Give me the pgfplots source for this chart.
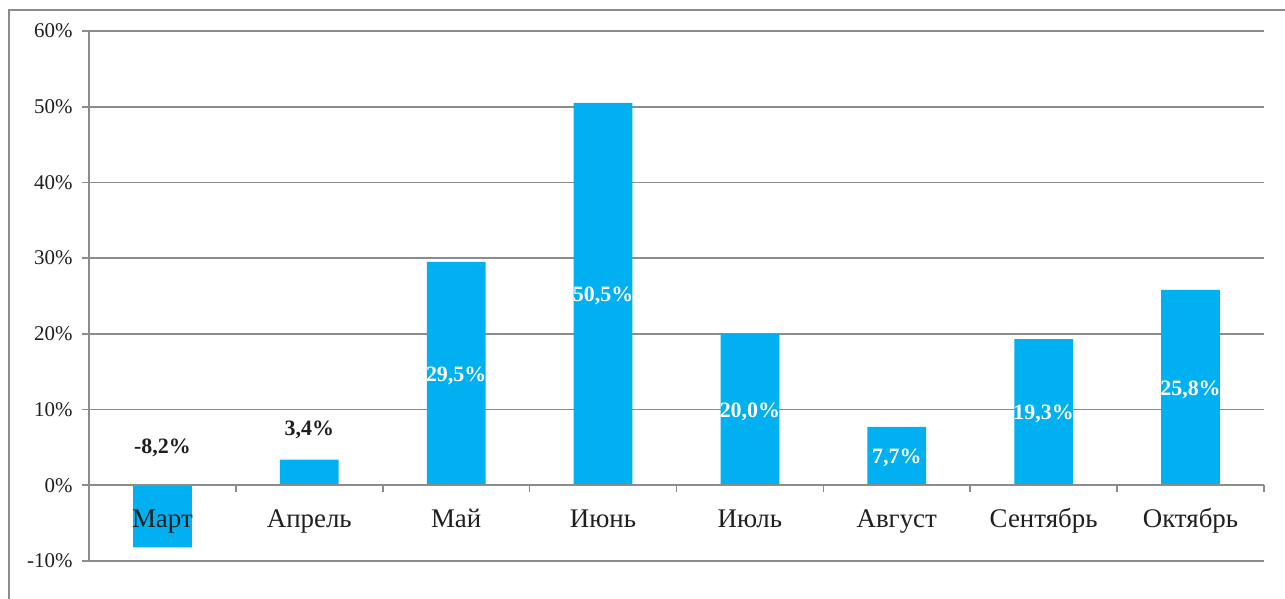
\documentclass[border=0pt]{standalone}
\usepackage{pgfplots}
\pgfplotsset{compat=1.18}
\usepackage{fontspec}
\setmainfont{Liberation Serif}
\definecolor{barblue}{HTML}{00B0F0}
\definecolor{linegray}{HTML}{8C8C8C}

\pgfplotstableread{
x  v
0  -8.2
1   3.4
2  29.5
3  50.5
4  20.0
5   7.7
6  19.3
7  25.8
}\monthly

\tikzset{
  catlab/.style={font=\fontsize{27}{27}\selectfont, text=black!88, anchor=base},
  vallab/.style={font=\bfseries\fontsize{22}{22}\selectfont, text=black!88},
  inlab/.style={font=\bfseries\fontsize{22}{22}\selectfont, text=white, yshift=-2bp},
  sep/.style={linegray, line width=1.6bp},
}

\begin{document}
\begin{tikzpicture}
\useasboundingbox (-89bp,-38bp) rectangle (1196bp,561bp);
% outer chart frame
\draw[linegray, line width=1.4bp] (-80bp,-38bp) -- (-80bp,551bp) -- (1196bp,551bp);
\begin{axis}[
  scale only axis,
  width=1175bp, height=530bp,
  xmin=-0.5, xmax=7.5,
  ymin=-10, ymax=60,
  axis x line=none,
  axis y line*=left,
  axis line style={linegray, line width=1.6bp},
  ytick={-10,0,10,20,30,40,50,60},
  yticklabel={\pgfmathprintnumber{\tick}\%},
  /pgf/number format/assume math mode=true,
  yticklabel style={font=\fontsize{21}{21}\selectfont, text=black!88, xshift=-6bp},
  tick style={linegray, line width=1.6bp},
  major tick length=7bp,
  tick align=outside,
  ymajorgrids,
  grid style={linegray, line width=1.6bp},
  clip=false,
]
\addplot[ybar, bar width=0.4, fill=barblue, draw=none] table[x=x, y=v] {\monthly};
% zero line with category separators
\draw[sep] (axis cs:-0.5,0) -- (axis cs:7.5,0);
\draw[sep] (axis cs:0.5,0) -- (axis cs:0.5,-0.92);
\draw[sep] (axis cs:1.5,0) -- (axis cs:1.5,-0.92);
\draw[sep] (axis cs:2.5,0) -- (axis cs:2.5,-0.92);
\draw[sep] (axis cs:3.5,0) -- (axis cs:3.5,-0.92);
\draw[sep] (axis cs:4.5,0) -- (axis cs:4.5,-0.92);
\draw[sep] (axis cs:5.5,0) -- (axis cs:5.5,-0.92);
\draw[sep] (axis cs:6.5,0) -- (axis cs:6.5,-0.92);
\draw[sep] (axis cs:7.5,0) -- (axis cs:7.5,-0.92);
% category names
\node[catlab] at (axis cs:0,-5.6) {Март};
\node[catlab] at (axis cs:1,-5.6) {Апрель};
\node[catlab] at (axis cs:2,-5.6) {Май};
\node[catlab] at (axis cs:3,-5.6) {Июнь};
\node[catlab] at (axis cs:4,-5.6) {Июль};
\node[catlab] at (axis cs:5,-5.6) {Август};
\node[catlab] at (axis cs:6,-5.6) {Сентябрь};
\node[catlab] at (axis cs:7,-5.6) {Октябрь};
% value labels
\node[vallab] at (axis cs:0,5.0) {-8,2\%};
\node[vallab] at (axis cs:1,7.3) {3,4\%};
\node[inlab] at (axis cs:2,14.75) {29,5\%};
\node[inlab] at (axis cs:3,25.25) {50,5\%};
\node[inlab] at (axis cs:4,10.0) {20,0\%};
\node[inlab] at (axis cs:5,3.85) {7,7\%};
\node[inlab] at (axis cs:6,9.65) {19,3\%};
\node[inlab] at (axis cs:7,12.9) {25,8\%};
\end{axis}
\end{tikzpicture}
\end{document}
